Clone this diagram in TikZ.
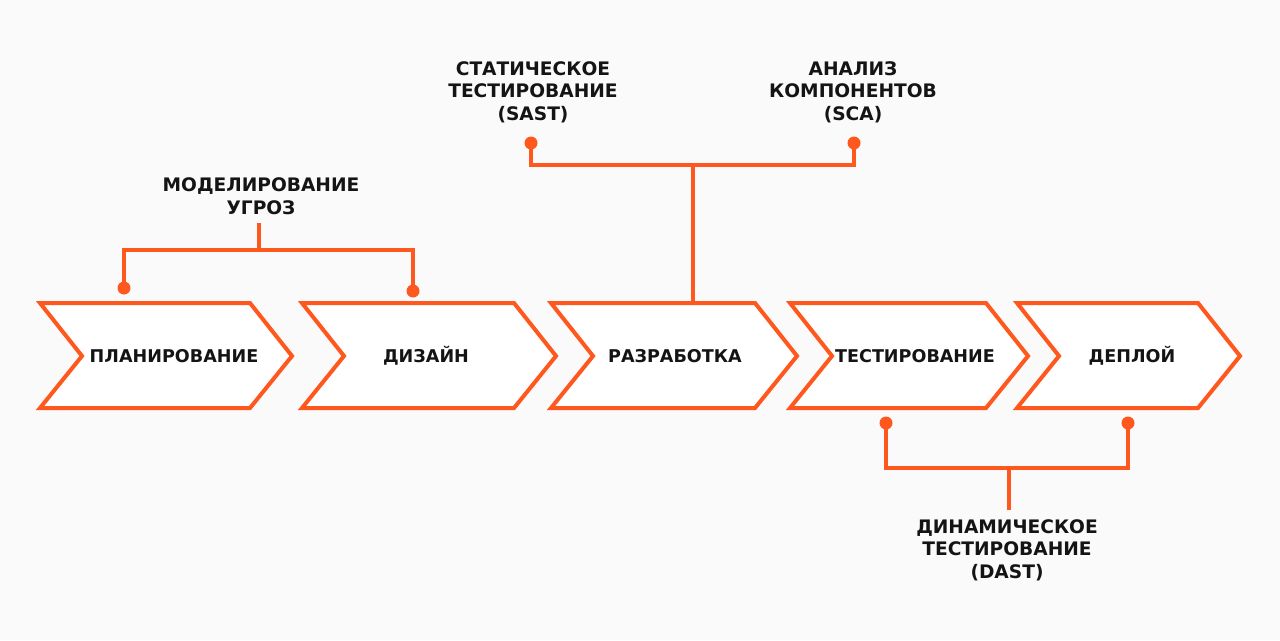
\documentclass[tikz,border=0pt]{standalone}
\usepackage{fontspec}
\setmainfont{DejaVu Sans}
\usetikzlibrary{positioning}
\definecolor{brand}{RGB}{255,88,30}
\definecolor{ink}{RGB}{20,20,20}
\definecolor{paper}{RGB}{250,250,250}
\tikzset{
  chev/.style={draw=brand, line width=0.08cm, line join=miter, fill=white},
  stage/.style={font=\bfseries\fontsize{10}{12}\selectfont, text=ink},
  tag/.style={font=\bfseries\fontsize{10.6}{12.8}\selectfont, text=ink, align=center, inner sep=5pt},
  dot/.style={circle, fill=brand, inner sep=0pt, minimum size=0.26cm},
  link/.style={draw=brand, line width=0.08cm}
}
\begin{document}
\begin{tikzpicture}[x=0.02cm, y=-0.02cm]
  \fill[paper] (0,0) rectangle (1280,640);
  \useasboundingbox (0,0) rectangle (1280,640);
  % stages
  \foreach \l/\r/\c/\n/\t in {40/292/174/plan/ПЛАНИРОВАНИЕ, 302/556/426/design/ДИЗАЙН,
      551/797/675/dev/РАЗРАБОТКА, 790/1028/915/test/ТЕСТИРОВАНИЕ, 1017/1240/1132/deploy/ДЕПЛОЙ}{
    \draw[chev] (\l,303) -- ({\r-42},303) -- (\r,356) -- ({\r-42},408) -- (\l,408) -- ({\l+42},356) -- cycle;
    \node[stage] (\n) at (\c,356) {\t};
  }
  % threat modelling
  \node[tag] (threat) at (261,196) {МОДЕЛИРОВАНИЕ\\УГРОЗ};
  \node[dot] (plandot) at (124,288) {};
  \node[dot] (designdot) at (413,291) {};
  \coordinate (threatjoin) at (259,250);
  \draw[link] (plandot.center) |- (threatjoin) -| (designdot.center);
  \draw[link] (threatjoin) -- (threatjoin |- threat.south);
  % sast and sca
  \node[tag] (sast) at (533,92) {СТАТИЧЕСКОЕ\\ТЕСТИРОВАНИЕ\\(SAST)};
  \node[tag] (sca) at (853,92) {АНАЛИЗ\\КОМПОНЕНТОВ\\(SCA)};
  \node[dot] (sastdot) at (531,143) {};
  \node[dot] (scadot) at (854,143) {};
  \coordinate (devjoin) at (693,165);
  \coordinate (devtop) at (693,303);
  \draw[link] (sastdot.center) |- (devjoin) -| (scadot.center);
  \draw[link] (devjoin) -- (devtop);
  % dast
  \node[tag] (dast) at (1007,550) {ДИНАМИЧЕСКОЕ\\ТЕСТИРОВАНИЕ\\(DAST)};
  \node[dot] (testdot) at (886,423) {};
  \node[dot] (deploydot) at (1128,423) {};
  \coordinate (dastjoin) at (1009,468);
  \draw[link] (testdot.center) |- (dastjoin) -| (deploydot.center);
  \draw[link] (dastjoin) -- (dastjoin |- dast.north);
\end{tikzpicture}
\end{document}
